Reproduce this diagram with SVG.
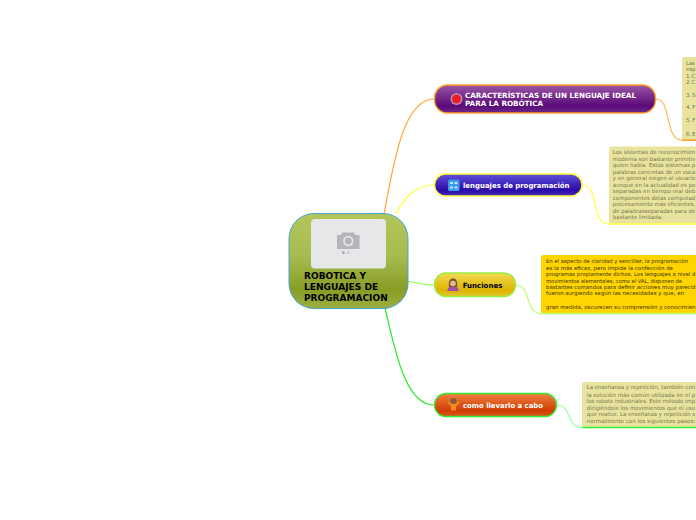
<svg xmlns="http://www.w3.org/2000/svg" width="696" height="520" viewBox="0 0 696 520">
<style>
text{font-family:"DejaVu Sans","Liberation Sans",sans-serif}
.lbl{font-size:7.2px;font-weight:bold;fill:#fff}
.dark{fill:#000}
.ctr{font-size:9px;font-weight:bold;fill:#000}
.note{font-size:5.6px;fill:#7c7848}
.noteb{font-size:5.3px;fill:#3a3000}
.c{fill:none;stroke-width:1.2}
.b{fill:none;stroke-width:1.6}
.nf{fill:#e8e4a0}
</style>
<defs>
<linearGradient id="gc" x1="0" y1="0" x2="0" y2="1"><stop offset="0" stop-color="#b3c65c"/><stop offset=".45" stop-color="#a6bb50"/><stop offset=".8" stop-color="#889d24"/><stop offset="1" stop-color="#9cb040"/></linearGradient>
<linearGradient id="g1" x1="0" y1="0" x2="0" y2="1"><stop offset="0" stop-color="#9b56a6"/><stop offset=".75" stop-color="#5a0a78"/><stop offset="1" stop-color="#6c2a88"/></linearGradient>
<linearGradient id="g2" x1="0" y1="0" x2="0" y2="1"><stop offset="0" stop-color="#5f50d8"/><stop offset=".75" stop-color="#2a0aa8"/><stop offset="1" stop-color="#4a30c0"/></linearGradient>
<linearGradient id="g3" x1="0" y1="0" x2="0" y2="1"><stop offset="0" stop-color="#f2da50"/><stop offset=".75" stop-color="#dcb400"/><stop offset="1" stop-color="#e6c830"/></linearGradient>
<linearGradient id="g4" x1="0" y1="0" x2="0" y2="1"><stop offset="0" stop-color="#f08040"/><stop offset=".75" stop-color="#d03c02"/><stop offset="1" stop-color="#dc5a20"/></linearGradient>
</defs>
<g id="connectors">
<path class="c" stroke="#ffa12e" d="M384 214C394 160 404 99 434 99"/>
<path class="c" stroke="#ffff33" d="M395.500 214C405 198 414 185 435 185"/>
<path class="c" stroke="#88ff44" d="M408 281.500C418 283 424 285 434 285"/>
<path class="c" stroke="#22ee22" d="M385 308C395 350 405 405 434 405"/>
<path class="c" stroke="#ffb850" d="M656 99C672 99 664 140 682 140"/>
<path class="c" stroke="#ffff44" d="M582 185C600 185 590 224 609 224"/>
<path class="c" stroke="#b8ff66" d="M515.500 285C532 285 524 313.500 541 313.500"/>
<path class="c" stroke="#99ff99" d="M556.500 405C572 405 566 427.500 582 427.500"/>
</g>
<g id="central">
<rect x="289" y="213.500" width="119" height="95" rx="25" fill="url(#gc)" stroke="#4aa0d8"/>
<rect x="311" y="219" width="75" height="49.500" rx="4" fill="#e6e7e9"/>
<path d="M337 235h4l1-2.500h12l1 2.500h4.500v14h-22.500z" fill="#b4b5b8"/>
<circle cx="348.300" cy="241" r="5.200" fill="#e6e7e9"/><circle cx="348.300" cy="241" r="3.400" fill="#b4b5b8"/>
<circle cx="343.300" cy="252.700" r="1.400" fill="#a4a5a8"/><circle cx="348" cy="252.700" r="1.200" fill="#c4c5c8"/>
<text class="ctr" x="304" y="279" textLength="62" lengthAdjust="spacingAndGlyphs">ROBOTICA Y</text>
<text class="ctr" x="304" y="290" textLength="74.300" lengthAdjust="spacingAndGlyphs">LENGUAJES DE</text>
<text class="ctr" x="304" y="300.500" textLength="83.700" lengthAdjust="spacingAndGlyphs">PROGRAMACION</text>
</g>
<g id="node1">
<rect x="434.500" y="85" width="221" height="28" rx="13" fill="url(#g1)" stroke="#ffa12e" stroke-width="1.400"/>
<circle cx="456.500" cy="99" r="6" fill="#b890b8"/><circle cx="456.500" cy="99" r="4.500" fill="#ee1c25"/>
<text class="lbl" x="465" y="97.700" textLength="171" lengthAdjust="spacingAndGlyphs">CARACTERÍSTICAS DE UN LENGUAJE IDEAL</text>
<text class="lbl" x="465" y="106" textLength="78" lengthAdjust="spacingAndGlyphs">PARA LA ROBÓTICA</text>
</g>
<g id="node2">
<rect x="434.500" y="174" width="147.500" height="22" rx="11" fill="url(#g2)" stroke="#ffff33" stroke-width="1.400"/>
<rect x="448" y="179.500" width="11.500" height="11.500" rx="1.500" fill="#3a9ae8"/>
<path d="M450 182h3v2h-3zM454.500 182h3v2h-3zM450 186.500h3v2h-3zM454.500 186.500h3v2h-3z" fill="#bfe4ff"/>
<text class="lbl" x="463" y="188.200" textLength="106.500" lengthAdjust="spacingAndGlyphs">lenguajes de programación</text>
</g>
<g id="node3">
<rect x="434.500" y="273" width="81" height="23.500" rx="11.500" fill="url(#g3)" stroke="#99ee44" stroke-width="1.400"/>
<path d="M447.500 291c0-3.500 2-5 5.500-5s5.500 1.500 5.500 5z" fill="#a050b0"/>
<path d="M449 287c-1-6 1-8.500 4-8.500s5 2.500 4 8.500z" fill="#7a5638"/>
<circle cx="453" cy="283.500" r="2.800" fill="#e8b890"/>
<text class="lbl dark" x="462.700" y="288" textLength="39.600" lengthAdjust="spacingAndGlyphs">Funciones</text>
</g>
<g id="node4">
<rect x="434.500" y="393.500" width="122" height="23" rx="11.500" fill="url(#g4)" stroke="#33ee33" stroke-width="1.400"/>
<path d="M448 401l4 3h3l4-3 .8 1.500-3.800 4v4h-5v-4l-3.800-4z" fill="#f28a1c"/>
<circle cx="453.500" cy="401" r="3" fill="#8a5a40"/>
<text class="lbl" x="463" y="407.700" textLength="80" lengthAdjust="spacingAndGlyphs">como llevarlo a cabo</text>
</g>
<g id="note1">
<rect class="nf" x="682" y="57" width="20" height="83" rx="2"/>
<path class="b" stroke="#ffa12e" d="M682 140.200H696"/>
<text class="note" x="686" y="64.500" textLength="9">Las</text>
<text class="note" x="686" y="70.500" textLength="9.500">esp</text>
<text class="note" x="686" y="77.500" textLength="9.500">1. C</text>
<text class="note" x="686" y="84" textLength="9.500">2. C</text>
<text class="note" x="686" y="96.500" textLength="9.500">3. S</text>
<text class="note" x="686" y="108.500" textLength="9.500">4. F</text>
<text class="note" x="686" y="122" textLength="9.500">5. F</text>
<text class="note" x="686" y="135.500" textLength="9.500">6. E</text>
</g>
<g id="note2">
<rect class="nf" x="609" y="146.500" width="90" height="77" rx="2"/>
<path class="b" stroke="#ffff33" d="M609 224H696"/>
<text class="note" x="612.800" y="153.500" textLength="82.500" lengthAdjust="spacingAndGlyphs">Los sistemas de reconocimien</text>
<text class="note" x="612.800" y="160.500" textLength="82.500" lengthAdjust="spacingAndGlyphs">moderna son bastante primitiv</text>
<text class="note" x="612.800" y="166.500" textLength="82.500" lengthAdjust="spacingAndGlyphs">quien habla. Estos sistemas p</text>
<text class="note" x="612.800" y="174" textLength="82.500" lengthAdjust="spacingAndGlyphs">palabras concretas de un voca</text>
<text class="note" x="612.800" y="180" textLength="82.500" lengthAdjust="spacingAndGlyphs">y en general exigen al usuario</text>
<text class="note" x="612.800" y="186.500" textLength="82.500" lengthAdjust="spacingAndGlyphs">aunque en la actualidad es po</text>
<text class="note" x="612.800" y="193" textLength="82.500" lengthAdjust="spacingAndGlyphs">separadas en tiempo real deb</text>
<text class="note" x="612.800" y="200" textLength="82.500" lengthAdjust="spacingAndGlyphs">componentes delas computad</text>
<text class="note" x="612.800" y="206" textLength="82.500" lengthAdjust="spacingAndGlyphs">procesamiento más eficientes,</text>
<text class="note" x="612.800" y="212.500" textLength="82.500" lengthAdjust="spacingAndGlyphs">de palabrasseparadas para de</text>
<text class="note" x="612.800" y="218.500" textLength="50" lengthAdjust="spacingAndGlyphs">bastante limitada.</text>
</g>
<g id="note3">
<rect x="541" y="255" width="160" height="58" rx="2" fill="#ffd400"/>
<path class="b" stroke="#b8ff66" d="M541 313.500H696"/>
<text class="noteb" x="546" y="263" textLength="142" lengthAdjust="spacingAndGlyphs">En el aspecto de claridad y sencillez, la programación</text>
<text class="noteb" x="546" y="269.500" textLength="127" lengthAdjust="spacingAndGlyphs">es la más eficaz, pero impide la confección de</text>
<text class="noteb" x="546" y="275.700" textLength="149.500" lengthAdjust="spacingAndGlyphs">programas propiamente dichos. Los lenguajes a nivel d</text>
<text class="noteb" x="546" y="282.500" textLength="136" lengthAdjust="spacingAndGlyphs">movimientos elementales, como el VAL, disponen de</text>
<text class="noteb" x="546" y="288.700" textLength="149.500" lengthAdjust="spacingAndGlyphs">bastantes comandos para definir acciones muy parecid</text>
<text class="noteb" x="546" y="295.300" textLength="138" lengthAdjust="spacingAndGlyphs">fueron surgiendo según las necesidades y que, en</text>
<text class="noteb" x="546" y="308.700" textLength="149.500" lengthAdjust="spacingAndGlyphs">gran medida, oscurecen su comprensión y conocimien</text>
</g>
<g id="note4">
<rect class="nf" x="582" y="382" width="120" height="45" rx="2"/>
<path class="b" stroke="#33ee33" d="M582 427.500H696"/>
<text class="note" x="586.700" y="389" textLength="108.500" lengthAdjust="spacingAndGlyphs">La enseñanza y repetición, también con</text>
<text class="note" x="586.700" y="396.500" textLength="108.500" lengthAdjust="spacingAndGlyphs">la solución más común utilizada en el p</text>
<text class="note" x="586.700" y="402.700" textLength="108.500" lengthAdjust="spacingAndGlyphs">los robots industriales. Este método imp</text>
<text class="note" x="586.700" y="410" textLength="108.500" lengthAdjust="spacingAndGlyphs">dirigiéndole los movimientos que el usu</text>
<text class="note" x="586.700" y="416" textLength="108.500" lengthAdjust="spacingAndGlyphs">que realice. La enseñanza y repetición s</text>
<text class="note" x="586.700" y="422.700" textLength="108.500" lengthAdjust="spacingAndGlyphs">normalmente con los siguientes pasos:</text>
</g>
</svg>
